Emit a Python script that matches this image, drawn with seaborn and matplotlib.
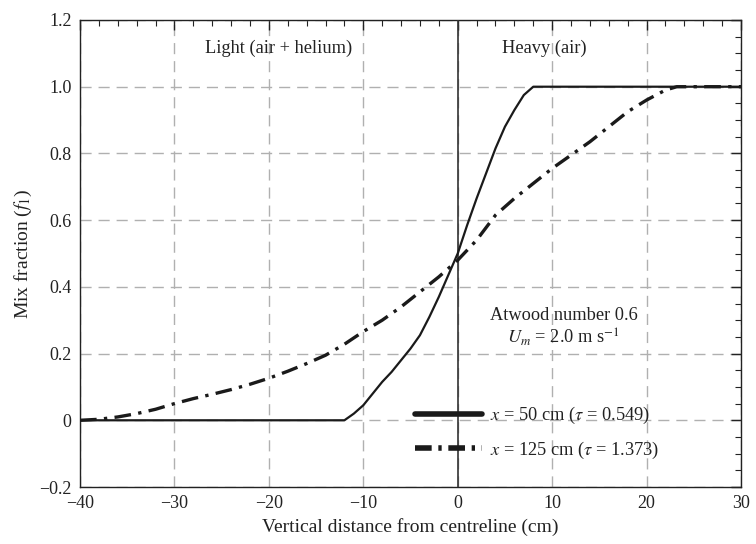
import numpy as np
import pandas as pd
import seaborn as sns
import matplotlib
matplotlib.use("Agg")
import matplotlib.pyplot as plt
from matplotlib.lines import Line2D
from matplotlib.ticker import MultipleLocator, FuncFormatter

# ---- data ----
x50 = [-40, -12, -11, -10, -9, -8, -7, -6, -5, -4, -3, -2, -1, 0, 1, 2, 3, 4, 5, 6, 7, 8, 30]
f50 = [0.0, 0.0, 0.02, 0.045, 0.08, 0.115, 0.145, 0.18, 0.215, 0.255, 0.31, 0.37, 0.435,
       0.50, 0.585, 0.665, 0.74, 0.815, 0.88, 0.93, 0.975, 1.0, 1.0]

x125 = [-40, -38, -36, -34, -32, -30, -28, -26, -24, -22, -20, -18, -16, -14, -12, -10,
        -8, -6, -4, -2, 0, 2, 4, 6, 8, 10, 12, 14, 16, 18, 20, 22, 23.2, 30]
f125 = [0.0, 0.003, 0.01, 0.02, 0.033, 0.05, 0.065, 0.078, 0.092, 0.108, 0.126, 0.147,
        0.17, 0.195, 0.228, 0.266, 0.30, 0.34, 0.385, 0.43, 0.48, 0.54, 0.615, 0.665,
        0.71, 0.755, 0.795, 0.835, 0.88, 0.925, 0.96, 0.99, 1.0, 1.0]

labels = [r"$x$ = 50 cm ($\tau$ = 0.549)", r"$x$ = 125 cm ($\tau$ = 1.373)"]
xticks = [-40, -30, -20, -10, 0, 10, 20, 30]
yticks = [-0.2, 0, 0.2, 0.4, 0.6, 0.8, 1.0, 1.2]

sns.set_theme(style="white")
plt.rcParams["font.family"] = ["Liberation Serif", "DejaVu Serif"]
plt.rcParams["mathtext.fontset"] = "stix"
plt.rcParams["axes.unicode_minus"] = True

fig = plt.figure(figsize=(7.56, 5.44), dpi=100)
ax = fig.add_axes([80 / 756, 57 / 544, 661 / 756, 467 / 544])

df50 = pd.DataFrame({"x": x50, "f": f50})
df125 = pd.DataFrame({"x": x125, "f": f125})

sns.lineplot(data=df50, x="x", y="f", ax=ax, color="#1a1a1a", lw=1.6, zorder=4)
sns.lineplot(data=df125, x="x", y="f", ax=ax, color="#1a1a1a", lw=2.4,
             linestyle=(0, (5, 2.2, 1, 2.2)), zorder=4)

ax.set_xlim(-40, 30)
ax.set_ylim(-0.2, 1.2)
ax.set_xticks(xticks)
ax.set_yticks(yticks)
ax.xaxis.set_minor_locator(MultipleLocator(2))
ax.yaxis.set_minor_locator(MultipleLocator(0.05))
ax.yaxis.set_major_formatter(FuncFormatter(
    lambda v, p: "0" if abs(v) < 1e-9 else f"{v:.1f}".replace("-", "\u2212")))
ax.xaxis.set_major_formatter(FuncFormatter(
    lambda v, p: f"{v:.0f}".replace("-", "\u2212")))

ax.grid(True, which="major", color="#b0b0b0", linestyle=(0, (8, 5)), lw=1.0)
ax.axvline(0, color="#333333", lw=1.2, zorder=3)

ax.tick_params(which="major", direction="in", length=7, width=1, top=True, right=True,
               labelsize=13, colors="#222222", pad=6)
ax.tick_params(which="minor", direction="in", length=4, width=0.8, top=True, right=True,
               colors="#222222")
for s in ax.spines.values():
    s.set_color("#222222")
    s.set_linewidth(1.0)

ax.set_xlabel("Vertical distance from centreline (cm)", fontsize=14, color="#222222")
ax.set_ylabel(r"Mix fraction ($f_1$)", fontsize=14, color="#222222")

fs = 13.2
ax.text(-19, 1.116, "Light (air + helium)", fontsize=fs, ha="center", va="center", color="#222222")
ax.text(9.2, 1.116, "Heavy (air)", fontsize=fs, ha="center", va="center", color="#222222")
ax.text(11.2, 0.315, "Atwood number 0.6", fontsize=fs, ha="center", va="center", color="#222222")
ax.text(11.2, 0.248, r"$U_m$ = 2.0 m s$^{-1}$", fontsize=fs, ha="center", va="center", color="#222222")

handles = [Line2D([], [], color="#1a1a1a", lw=4),
           Line2D([], [], color="#1a1a1a", lw=4, linestyle=(0, (3, 1.2, 0.6, 1.2)))]
ax.legend(handles, labels, frameon=False, loc="upper left", bbox_to_anchor=(0.4815, 0.211),
          handlelength=3.66, handletextpad=0.44, labelspacing=0.75, fontsize=fs,
          labelcolor="#222222")

fig.savefig("out.png", dpi=100)
